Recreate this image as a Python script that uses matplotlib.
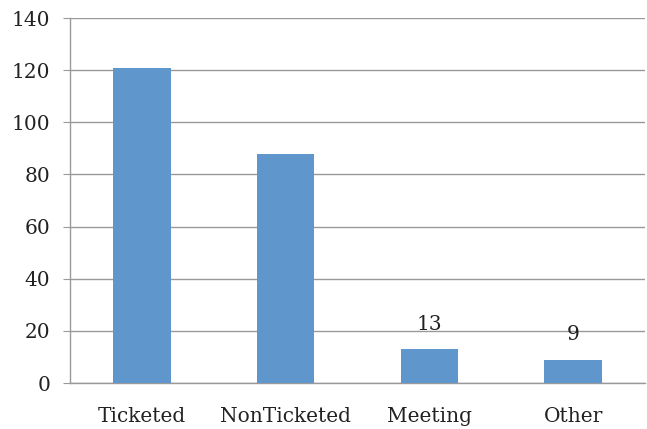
import matplotlib.pyplot as plt

categories = ["Ticketed", "NonTicketed", "Meeting", "Other"]
counts = [121, 88, 13, 9]
# only the two short bars carry a visible value label in the original
labelled = ["Meeting", "Other"]

plt.rcParams['font.family'] = ['DejaVu Serif']

fig = plt.figure(figsize=(6.47, 4.29), dpi=100)
ax = fig.add_axes([0.108, 0.107, 0.889, 0.851])

x = range(len(categories))
bars = ax.bar(x, counts, width=0.40, color='#5F96CB', zorder=3)

for rect, cat, val in zip(bars, categories, counts):
    if cat in labelled:
        ax.text(rect.get_x() + rect.get_width() / 2, val + 6, str(val),
                ha='center', va='bottom', fontsize=14.5, color='#222222', zorder=4)

ax.set_xlim(-0.5, len(categories) - 0.5)
ax.set_ylim(0, 140)
ax.set_yticks(range(0, 141, 20))
ax.set_xticks(list(x))
ax.set_xticklabels(categories)

ax.yaxis.grid(True, color='#999999', linewidth=1.0, zorder=0)
for side in ['top', 'right']:
    ax.spines[side].set_visible(False)
for side in ['left', 'bottom']:
    ax.spines[side].set_color('#999999')
    ax.spines[side].set_linewidth(1.0)

ax.tick_params(axis='y', length=5, color='#999999', pad=9, labelsize=14.5, labelcolor='#222222')
ax.tick_params(axis='x', length=0, pad=17, labelsize=14.5, labelcolor='#222222')

fig.savefig('out.png', dpi=100)
